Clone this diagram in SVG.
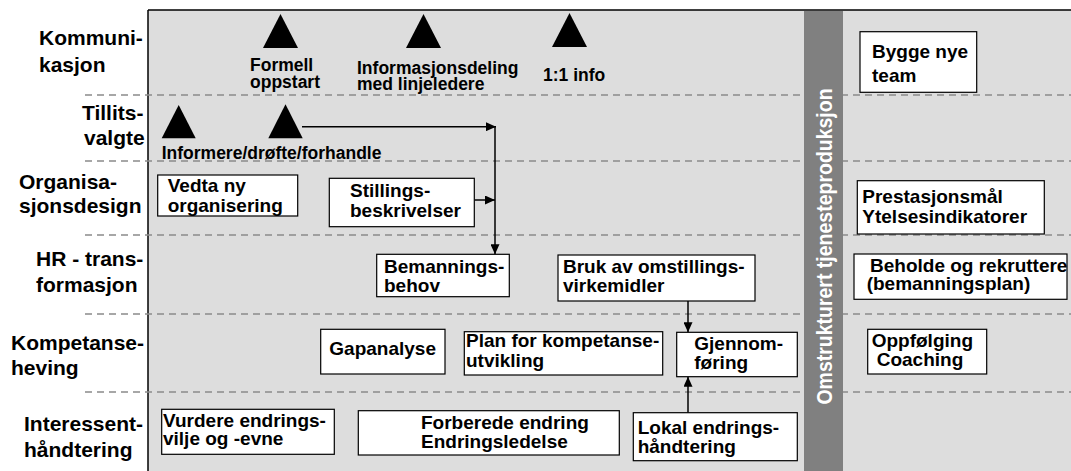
<svg xmlns="http://www.w3.org/2000/svg" width="1071" height="471" viewBox="0 0 1071 471">
<defs>
<style>
text{font-family:"Liberation Sans",Arial,sans-serif;font-weight:bold;fill:#000}
.lab{font-size:21px}
.box{font-size:19px}
.tri{font-size:17.5px}
.vt{font-size:19.5px;font-weight:bold;fill:#fff}
rect.n{fill:#fff;stroke:#000;stroke-width:1.2}
.dash{stroke:#8a8a8a;stroke-width:1.6;stroke-dasharray:7 5;fill:none}
.con{stroke:#000;stroke-width:1.5;fill:none;marker-end:url(#ah)}
polygon.t{fill:#000}
</style>
<marker id="ah" markerUnits="userSpaceOnUse" markerWidth="11" markerHeight="9" refX="10" refY="4.5" orient="auto">
<path d="M0,0 L10,4.5 L0,9 z" fill="#000"/>
</marker>
</defs>
<rect x="0" y="0" width="1071" height="471" fill="#fff"/>
<g id="background">
<rect x="148" y="10" width="923" height="461" fill="#dddddd"/>
<line x1="148" y1="10" x2="1071" y2="10" stroke="#000" stroke-width="1.5"/>
<line x1="148" y1="10" x2="148" y2="471" stroke="#000" stroke-width="1.5"/>
<line class="dash" x1="85" y1="95" x2="1071" y2="95"/>
<line class="dash" x1="85" y1="161" x2="1071" y2="161"/>
<line class="dash" x1="85" y1="235" x2="1071" y2="235"/>
<line class="dash" x1="85" y1="314" x2="1071" y2="314"/>
<line class="dash" x1="85" y1="392" x2="1071" y2="392"/>
</g>
<g id="bar">
<rect x="804" y="11" width="39" height="460" fill="#808080"/>
<text class="vt" transform="translate(831.5,246.5) rotate(-90) scale(1,1.12)" text-anchor="middle">Omstrukturert tjenesteproduksjon</text>
</g>
<g id="row-labels">
<g id="lab-kommunikasjon"><text class="lab" x="39" y="45">Kommuni-<tspan x="39" y="72">kasjon</tspan></text></g>
<g id="lab-tillitsvalgte"><text class="lab" x="82" y="120">Tillits-<tspan x="84" y="145">valgte</tspan></text></g>
<g id="lab-organisasjonsdesign"><text class="lab" x="19" y="188.5">Organisa-<tspan x="19" y="213.3">sjonsdesign</tspan></text></g>
<g id="lab-hr"><text class="lab" x="36" y="266">HR - trans-<tspan x="36" y="291.7">formasjon</tspan></text></g>
<g id="lab-kompetanse"><text class="lab" x="11" y="350">Kompetanse-<tspan x="11" y="375">heving</tspan></text></g>
<g id="lab-interessent"><text class="lab" x="24" y="430.7">Interessent-<tspan x="24" y="456.7">håndtering</tspan></text></g>
</g>
<g id="connectors">
<path class="con" d="M302,126.7 H496"/>
<path class="con" d="M495,126.7 V254.3"/>
<path class="con" d="M474.3,200 H495"/>
<path class="con" d="M688,301 V332.3"/>
<path class="con" d="M688,412.7 V376.7"/>
</g>
<g id="formell-oppstart">
<polygon class="t" points="263,48 280.5,14 298,48"/>
<text class="tri" x="250" y="71">Formell<tspan x="250" y="87.5">oppstart</tspan></text>
</g>
<g id="informasjonsdeling">
<polygon class="t" points="406,48 423.5,14 441,48"/>
<text class="tri" x="357" y="74">Informasjonsdeling<tspan x="357" y="90">med linjeledere</tspan></text>
</g>
<g id="info-1-1">
<polygon class="t" points="552,47 569.5,13 587,47"/>
<text class="tri" x="543" y="81">1:1 info</text>
</g>
<g id="informere">
<polygon class="t" points="161.7,138.3 178.7,105 195.7,138.3"/>
<polygon class="t" points="268.3,138.3 285.5,104.3 302.7,138.3"/>
<text class="tri" x="161.7" y="158.5">Informere/drøfte/forhandle</text>
</g>
<g id="bygge-nye-team">
<rect class="n" x="860" y="31.7" width="116.7" height="60.6"/>
<text class="box" x="872" y="58.3">Bygge nye<tspan x="872" y="82.3">team</tspan></text>
</g>
<g id="vedta">
<rect class="n" x="157.7" y="175" width="140" height="41"/>
<text class="box" x="167.7" y="192.3">Vedta ny<tspan x="167.7" y="211.7">organisering</tspan></text>
</g>
<g id="stillingsbeskrivelser">
<rect class="n" x="329.3" y="178.3" width="145" height="48.4"/>
<text class="box" x="350" y="197.3">Stillings-<tspan x="350" y="216.7">beskrivelser</tspan></text>
</g>
<g id="prestasjonsmaal">
<rect class="n" x="857.3" y="180.7" width="187" height="53.3"/>
<text class="box" x="862.3" y="202.7">Prestasjonsmål<tspan x="862.3" y="223.3">Ytelsesindikatorer</tspan></text>
</g>
<g id="bemanningsbehov">
<rect class="n" x="376.7" y="254.3" width="132.6" height="42.4"/>
<text class="box" x="384" y="273.3">Bemannings-<tspan x="384" y="292">behov</tspan></text>
</g>
<g id="bruk-av-omstillingsvirkemidler">
<rect class="n" x="558" y="255" width="197" height="46"/>
<text class="box" x="563" y="272.7">Bruk av omstillings-<tspan x="563" y="291.7">virkemidler</tspan></text>
</g>
<g id="beholde-og-rekruttere">
<rect class="n" x="854" y="254" width="213" height="45.3"/>
<text class="box" x="870" y="271.7">Beholde og rekruttere<tspan x="866.7" y="290">(bemanningsplan)</tspan></text>
</g>
<g id="gapanalyse">
<rect class="n" x="320.7" y="329.3" width="124.3" height="44.7"/>
<text class="box" x="329.3" y="355">Gapanalyse</text>
</g>
<g id="plan-for-kompetanseutvikling">
<rect class="n" x="464.3" y="331.7" width="198.4" height="43.3"/>
<text class="box" x="466" y="346.7">Plan for kompetanse-<tspan x="466" y="366.7">utvikling</tspan></text>
</g>
<g id="gjennomforing">
<rect class="n" x="676.7" y="332.3" width="120.6" height="44.4"/>
<text class="box" x="694.3" y="350">Gjennom-<tspan x="694.3" y="369">føring</tspan></text>
</g>
<g id="oppfolging-coaching">
<rect class="n" x="867.7" y="329.3" width="119" height="44.7"/>
<text class="box" x="871.7" y="346.7">Oppfølging<tspan x="876.7" y="366">Coaching</tspan></text>
</g>
<g id="vurdere">
<rect class="n" x="161.7" y="409.3" width="172.6" height="45"/>
<text class="box" x="163" y="426.7">Vurdere endrings-<tspan x="163" y="445">vilje og -evne</tspan></text>
</g>
<g id="forberede-endring">
<rect class="n" x="358.3" y="410.7" width="261" height="44.3"/>
<text class="box" x="421" y="429.3">Forberede endring<tspan x="421" y="448.3">Endringsledelse</tspan></text>
</g>
<g id="lokal-endringshaandtering">
<rect class="n" x="633.3" y="412.7" width="164" height="48"/>
<text class="box" x="637.7" y="434">Lokal endrings-<tspan x="637.7" y="452.7">håndtering</tspan></text>
</g>
</svg>
